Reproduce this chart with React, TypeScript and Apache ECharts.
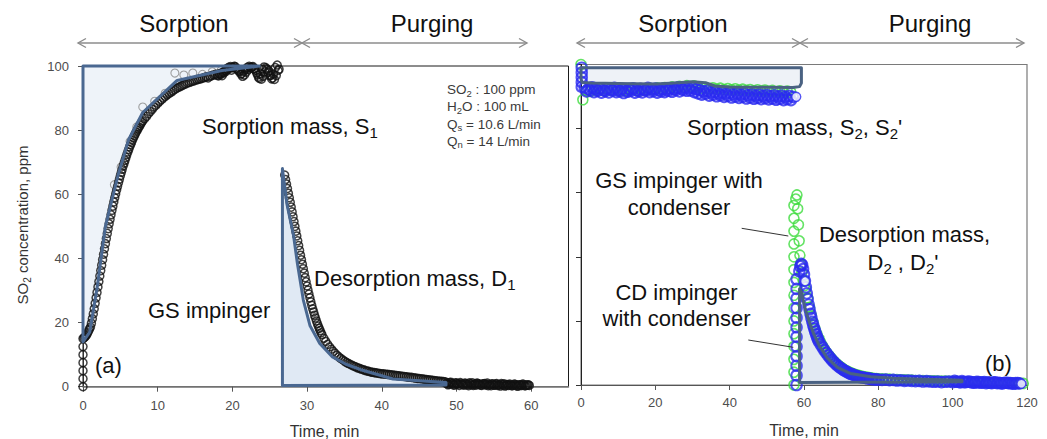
import React, { useEffect, useRef } from 'react';
import * as echarts from 'echarts';

const FONT = '"Liberation Sans", Arial, Helvetica, sans-serif';

// ---------- axes ----------
const X_TICKS_A = [0, 10, 20, 30, 40, 50, 60];
const X_TICKS_B = [0, 20, 40, 60, 80, 100, 120];
const Y_TICKS = [0, 20, 40, 60, 80, 100];

// ---------- panel (a): GS impinger ----------
// column of samples recorded at t = 0
const A_SORP_T0 = [0, 2.5, 5, 7.5, 10, 12.5, 15];
// early sorption, sampled every 0.125 min from 0.125 min
const A_SORP1_START = 0.125;
const A_SORP1_STEP = 0.125;
const A_SORP1 = [
  15.2, 15.5, 15.8, 16.2, 16.8, 17.4, 18.0, 18.6,
  19.8, 21.2, 22.7, 24.3, 26.0, 27.7, 29.4, 31.1, 32.8, 34.5, 36.2, 37.9, 39.6, 41.3, 43.0, 44.6,
  46.2, 47.8, 49.3, 50.8, 52.2, 53.6, 55.0, 56.3, 57.6, 58.9, 60.1, 61.3, 62.5, 63.6, 64.7, 65.8,
  66.8, 67.8, 68.8, 69.7, 70.6, 71.5, 72.4, 73.2, 74.0, 74.8, 75.5, 76.2, 76.9, 77.6, 78.2, 78.8,
  79.4, 80.0, 80.5, 81.0, 81.5, 82.0, 82.5, 82.9,
];
// later sorption, every 0.25 min from 8.25 min
const A_SORP2_START = 8.25;
const A_SORP2_STEP = 0.25;
const A_SORP2 = [
  83.6, 84.3, 85.1, 85.8, 86.5, 87.2, 87.8, 88.4, 89, 89.5, 90, 90.5, 91, 91.4, 91.8, 92.2, 92.6, 93, 93.3, 93.6,
  93.9, 94.2, 94.4, 94.7, 94.9, 95.1, 95.3, 95.5, 95.7, 95.9, 96, 96.2, 96.4, 96.6, 96.3, 96.8, 97, 97.2, 97.4, 97.1,
  97.6, 97.8, 98, 98.6, 99.2, 99.6, 99.8, 99.5, 99.9, 99.3, 98.8, 98.2, 97.6, 98.4, 99, 99.6, 99.9, 99.5, 99.8, 99.2,
  97.8, 96.5, 97.5, 99, 99.7, 99.4, 98, 97, 96, 97.5, 99.5, 100.3, 99,
];
// scatter of the plateau (second trace of samples)
const A_SORP3_START = 18.125;
const A_SORP3_STEP = 0.25;
const A_SORP3 = [
  96.9, 97.3, 97.0, 97.8, 98.3, 98.9, 99.3, 98.7, 99.5, 99.8, 99.1, 98.4, 97.5, 96.8, 97.2, 98.1, 98.9, 99.4, 99.7, 99.1,
  98.6, 97.2, 96.1, 95.9, 96.8, 98.2, 99.0, 98.5, 97.1, 96.3, 95.8, 97.0, 98.6,
];
// replicate (grey circles)
const A_SORP_GRAY: number[][] = [
  [4.2, 63], [5.1, 68.5], [6.3, 76.5], [7.2, 81], [8.0, 87.2], [9.6, 89], [11.0, 91.5], [12.3, 97.8],
  [13.5, 97.2], [14.7, 97.8], [16.0, 97.4], [17.3, 98.2], [18.5, 98.7], [20.0, 99.6],
];
// desorption samples
const A_DES1_START = 27;
const A_DES1_STEP = 0.125;
const A_DES1 = [
  66, 64.6, 63.2, 61.8, 60.3, 58.9, 57.5, 56.0, 54.5, 53.0, 51.5, 50.0, 48.5, 47.0, 45.5, 44.0,
  42.5, 41.0, 39.6, 38.2, 36.8, 35.4, 34.0, 32.7, 31.4, 30.1, 28.9, 27.7, 26.5, 25.4, 24.3, 23.3,
  22.3, 21.4, 20.5, 19.7, 18.9, 18.2, 17.5, 16.8, 16.2,
];
const A_DES2_START = 32.25;
const A_DES2_STEP = 0.25;
const A_DES2 = [
  15.1, 14.1, 13.2, 12.4, 11.7, 11.0, 10.4, 9.8, 9.3, 8.8, 8.4, 8.0, 7.6, 7.3, 7.0, 6.7, 6.4, 6.2, 5.9, 5.7,
  5.5, 5.3, 5.1, 4.9, 4.8, 4.6, 4.5, 4.4, 4.3, 4.2, 4.1, 4.0,
];
const A_DES3_START = 40.25;
const A_DES3_STEP = 0.25;
const A_DES3 = [
  4.0, 3.9, 3.85, 3.8, 3.7, 3.6, 3.55, 3.5, 3.4, 3.3, 3.25, 3.2, 3.1, 3.0, 2.95, 2.9, 2.8, 2.7, 2.6, 2.55,
  2.5, 2.4, 2.3, 2.2, 2.15, 2.1, 2.0, 1.9, 1.85, 1.8, 1.7, 1.65, 1.6,
];
const A_DES4_START = 48.5;
const A_DES4_STEP = 0.25;
const A_DES4 = [
  1.5, 1.2, 0.8, 1.4, 1.0, 0.6, 1.1, 0.9, 1.3, 0.7, 0.5, 1.0, 0.8, 1.2, 0.6, 0.4, 0.9, 1.1, 0.7, 0.5,
  0.8, 1.0, 0.6, 0.3, 0.7, 0.9, 0.5, 0.8, 0.4, 0.6, 1.0, 0.5, 0.2, 0.7, 0.4, 0.6, 0.3, 0.8, 0.5, 0.2,
  0.6, 0.4, 0.7, 0.3, 0.5, 0.4,
];
const A_DES5_START = 48.625;
const A_DES5_STEP = 0.25;
const A_DES5 = [
  1.0, 0.6, 1.3, 0.9, 0.5, 1.2, 0.8, 0.4, 1.0, 0.7, 1.1, 0.6, 0.3, 0.9, 1.2, 0.7, 0.5, 1.0, 0.8, 0.4,
  0.9, 0.6, 1.1, 0.7, 0.3, 0.8, 0.5, 1.0, 0.6, 0.2, 0.7, 0.9, 0.4, 0.6, 0.8, 0.3, 0.5, 0.7, 0.2, 0.6,
  0.4, 0.8, 0.3, 0.5, 0.6,
];
// fitted areas (S1, D1)
const A_FIT_SORP: number[][] = [
  [0, 100], [0, 14], [0.9, 17], [1.9, 31], [3.0, 50], [4.7, 66], [6.1, 77], [8.0, 85.5], [12.6, 95.5],
  [18.6, 98.6], [23.6, 100],
];
const A_FIT_DES: number[][] = [
  [26.7, 0.4], [26.7, 68], [27.3, 57], [28.2, 47], [28.7, 38.5], [29.5, 27], [30.4, 19], [31.7, 13.5],
  [33.4, 9.3], [35.2, 7], [37.2, 5.3], [41.5, 2.4], [48.6, 1.3], [48.6, 0.5],
];

// ---------- panel (b): GS / CD impinger with condenser ----------
const B_GREEN_SORP_T0 = [[0, 100]];
const B_GREEN_SORP_START = 0.5;
const B_SORP_STEP = 1;
const B_GREEN_SORP = [
  89, 92.0, 91.6, 92.3, 91.8, 92.4, 91.7, 92.2, 91.9, 92.5, 91.8, 92.2, 91.7, 92.1, 92.4, 91.8, 92.3, 92.0, 92.6, 92.2,
  92.7, 92.3, 92.8, 92.5, 93.0, 92.7, 93.2, 93.0, 93.4, 93.1, 93.3, 92.9, 92.6, 92.8, 92.4, 92.7, 92.3, 92.6, 92.2, 92.5,
  92.1, 92.4, 92.0, 92.3, 91.9, 92.2, 91.8, 92.1, 91.7, 92.0, 91.6, 91.9, 91.5, 91.8, 91.4, 91.7, 91.3,
];
const B_BLUE_SORP_T0 = [99, 97.5, 96, 94.5, 93];
const B_BLUE_SORP_START = 1;
const B_BLUE_SORP = [
  92.8, 92.4, 92.9, 92.3, 92.6, 92.0, 92.5, 92.2, 92.7, 92.1, 92.4, 91.9, 92.3, 92.6, 92.0, 92.4, 92.1, 92.7, 92.3, 92.5,
  92.0, 92.4, 92.2, 92.6, 92.3, 92.8, 92.5, 92.9, 92.6, 92.8, 92.3, 92.0, 91.6, 91.8, 91.3, 91.5, 91.0, 91.3, 90.9, 91.2,
  90.7, 91.0, 90.6, 90.9, 90.4, 90.7, 90.3, 90.6, 90.2, 90.5, 90.1, 90.4, 90.0, 90.3, 89.9, 90.2, 89.9,
];
const B_BLUE_SORP2_START = 1.5;
const B_BLUE_SORP2 = [
  91.6, 91.9, 91.4, 91.8, 91.2, 91.7, 91.3, 91.9, 91.4, 91.6, 91.1, 91.5, 91.8, 91.2, 91.6, 91.3, 91.9, 91.4, 91.7, 91.2,
  91.6, 91.4, 91.8, 91.5, 92.0, 91.6, 92.1, 91.8, 91.9, 91.4, 91.0, 90.6, 90.9, 90.3, 90.6, 90.1, 90.4, 89.9, 90.2, 89.7,
  90.0, 89.6, 89.9, 89.4, 89.7, 89.3, 89.6, 89.2, 89.5, 89.1, 89.4, 89.0, 89.3, 88.9, 89.2, 88.9,
];
// desorption: rising column, spike and decay
const B_GREEN_RISE_T = 57.3;
const B_GREEN_RISE = [0, 4, 8, 12, 16, 20, 24, 28, 32, 36, 40, 44, 48, 52, 56];
const B_GREEN_PEAK: number[][] = [
  [57.8, 58], [58.1, 59.3], [58.3, 55], [58.5, 50], [58.7, 45], [58.9, 40.5], [59.1, 37.5], [59.4, 35],
  [59.8, 32.5], [60.1, 31],
];
const B_GREEN_DES1_START = 60.5;
const B_GREEN_DES1_STEP = 0.5;
const B_GREEN_DES1 = [
  29.8, 27.2, 24.2, 21.6, 19.4, 17.5, 15.9, 14.5, 13.3, 12.2, 11.2, 10.3, 9.5, 8.8, 8.1, 7.5, 6.9, 6.4, 5.9, 5.5,
  5.1, 4.7, 4.4, 4.1, 3.8, 3.6, 3.4, 3.2, 3.0, 2.9, 2.7, 2.6, 2.5, 2.4, 2.3, 2.2, 2.1, 2.0, 2.0, 1.9,
];
const B_GREEN_DES2_START = 81;
const B_GREEN_DES2_STEP = 1;
const B_GREEN_DES2 = [
  1.9, 1.8, 1.8, 1.7, 1.7, 1.6, 1.6, 1.5, 1.5, 1.4, 1.4, 1.4, 1.3, 1.3, 1.3, 1.2, 1.2, 1.2, 1.1, 1.1,
  1.1, 1.0, 1.0, 1.0, 0.9, 0.9, 0.9, 0.8, 0.8, 0.8, 0.7, 0.7, 0.7, 0.6, 0.6, 0.6, 0.5, 0.5, 0.5,
];
const B_BLUE_RISE_T = 58.0;
const B_BLUE_RISE = [0, 3, 6, 9, 12, 15, 18, 21, 24, 27, 30, 33];
const B_BLUE_DES1_START = 58.75;
const B_BLUE_DES1_STEP = 0.25;
const B_BLUE_DES1 = [
  35.5, 37, 37.8, 37.5, 36.2, 34.5, 32.5, 30.5, 28.6, 26.8, 25.1, 23.6, 22.2, 20.9, 19.7, 18.6, 17.6, 16.7, 15.8, 15.0,
  14.3, 13.6,
];
const B_BLUE_DES2_START = 64.5;
const B_BLUE_DES2_STEP = 0.5;
const B_BLUE_DES2 = [
  12.6, 11.7, 10.8, 10.0, 9.2, 8.5, 7.8, 7.2, 6.6, 6.1, 5.6, 5.2, 4.8, 4.4, 4.1, 3.8, 3.5, 3.3, 3.1, 2.9,
  2.7, 2.5, 2.4, 2.3, 2.2, 2.1, 2.0, 1.9, 1.8, 1.8, 1.7, 1.7,
];
const B_BLUE_DES3_START = 81;
const B_BLUE_DES3_STEP = 1;
const B_BLUE_DES3 = [
  1.6, 1.7, 1.5, 1.6, 1.4, 1.5, 1.3, 1.4, 1.3, 1.2, 1.3, 1.1, 1.2, 1.1, 1.0, 1.1, 0.9, 1.0, 1.1, 0.9,
  1.0, 0.8, 0.9, 1.0, 0.8, 0.7, 0.9, 0.8, 0.6, 0.7, 0.8, 0.6, 0.5, 0.7, 0.6, 0.5, 0.6, 0.5,
];
const B_BLUE_DES4_START = 100.5;
const B_BLUE_DES4_STEP = 1;
const B_BLUE_DES4 = [1.3, 1.0, 1.2, 0.9, 1.1, 0.8, 1.0, 0.7, 0.9, 0.8, 0.6, 0.8, 0.7, 0.5, 0.7, 0.6, 0.4, 0.6];
const B_BLUE_MARKS: number[][] = [[57.9, 89.9], [60.3, 32.4], [118.5, 0.4]];
// fitted areas (S2, S2', D2, D2')
const B_FIT_SORP: number[][] = [
  [0, 99], [59.3, 99], [59.3, 94.2], [58.8, 93.1], [57, 92.8], [50, 92.9], [40, 93], [36, 93.3], [33.5, 94.3],
  [30, 94.6], [25, 94.2], [20, 93.9], [10, 94.1], [3, 94.2], [0.3, 94.4], [0, 95.5],
];
const B_FIT_DES: number[][] = [
  [58.8, 0.8], [58.8, 30], [59.3, 29], [60.4, 23.4], [61.5, 19.5], [62.6, 16], [64, 12.5], [66.2, 8.5],
  [69, 5.5], [72.4, 3.6], [78, 2.6], [84, 2.1], [92, 1.8], [102.5, 1.5], [102.5, 1.0],
];

// ---------- helpers ----------
const seq = (start: number, step: number, ys: number[]) =>
  ys.map((y, i) => [Math.round((start + i * step) * 1000) / 1000, y]);
const col = (x: number, ys: number[]) => ys.map((y) => [x, y]);

function polySeries(pts: number[][], gi: number, fill: string, stroke: string, z: number) {
  return {
    type: 'custom',
    xAxisIndex: gi,
    yAxisIndex: gi,
    clip: false,
    silent: true,
    z,
    data: [[pts[0][0], pts[0][1]]],
    renderItem: (_p: any, api: any) => ({
      type: 'polygon',
      shape: { points: pts.map((p) => api.coord(p)) },
      style: {
        fill,
        stroke,
        lineWidth: stroke === 'none' ? 0 : 3,
        lineJoin: 'round',
      },
    }),
  };
}

function scatter(data: number[][], gi: number, color: string, size: number, bw: number, fill = 'rgba(0,0,0,0)', z = 3) {
  return {
    type: 'scatter',
    xAxisIndex: gi,
    yAxisIndex: gi,
    clip: false,
    silent: true,
    z,
    symbol: 'circle',
    symbolSize: size,
    itemStyle: { color: fill, borderColor: color, borderWidth: bw },
    data,
  };
}

const SUB_BIG = { fontSize: 15, fontFamily: FONT, fill: '#111', verticalAlign: 'bottom', lineHeight: 16 };
function label(x: number, y: number, text: string, align = 'left', size = 22) {
  return {
    type: 'text',
    x,
    y,
    z: 50,
    style: {
      text,
      fontSize: size,
      fontFamily: FONT,
      fill: '#111',
      align,
      verticalAlign: 'middle',
      lineHeight: 28,
      rich: { s: SUB_BIG },
    },
  };
}
function info(x: number, y: number, text: string) {
  return {
    type: 'text',
    x,
    y,
    z: 50,
    style: {
      text,
      fontSize: 13.5,
      fontFamily: FONT,
      fill: '#3a3a3a',
      align: 'left',
      verticalAlign: 'middle',
      lineHeight: 17,
      rich: { s: { fontSize: 9.5, fontFamily: FONT, fill: '#3a3a3a', verticalAlign: 'bottom', lineHeight: 10 } },
    },
  };
}
const ARROW = '#8c8c8c';
function arrow(x1: number, x2: number, y: number) {
  const st = { stroke: ARROW, lineWidth: 1.4, fill: 'none' };
  return [
    { type: 'line', z: 50, shape: { x1, y1: y, x2, y2: y }, style: st },
    { type: 'polyline', z: 50, shape: { points: [[x1 + 8, y - 4.5], [x1, y], [x1 + 8, y + 4.5]] }, style: st },
    { type: 'polyline', z: 50, shape: { points: [[x2 - 8, y - 4.5], [x2, y], [x2 - 8, y + 4.5]] }, style: st },
  ];
}
function leader(x1: number, y1: number, x2: number, y2: number) {
  return { type: 'line', z: 50, shape: { x1, y1, x2, y2 }, style: { stroke: '#333', lineWidth: 1 } };
}

export default function App() {
  const ref = useRef<HTMLDivElement>(null);

  useEffect(() => {
    if (!ref.current) return;
    const chart = echarts.init(ref.current, undefined, { renderer: 'svg' });

    const tickLabel = { color: '#4d4d4d', fontSize: 13, fontFamily: FONT };

    const xA = {
      type: 'value',
      gridIndex: 0,
      min: 0,
      max: 65,
      axisLine: { show: true, lineStyle: { color: '#808080', width: 1.5 } },
      axisTick: { show: true, length: 5, customValues: X_TICKS_A, lineStyle: { color: '#555' } },
      axisLabel: { ...tickLabel, margin: 12, customValues: X_TICKS_A },
      splitLine: { show: false },
    };
    const yA = {
      type: 'value',
      gridIndex: 0,
      min: 0,
      max: 100,
      interval: 20,
      axisLine: { show: true, lineStyle: { color: '#333', width: 1 } },
      axisTick: { show: true, length: 5, customValues: Y_TICKS, lineStyle: { color: '#555' } },
      axisLabel: { ...tickLabel, margin: 14, customValues: Y_TICKS },
      splitLine: { show: false },
    };
    const xB = {
      type: 'value',
      gridIndex: 1,
      min: 0,
      max: 120,
      interval: 20,
      axisLine: { show: true, lineStyle: { color: '#555', width: 1.2 } },
      axisTick: { show: true, length: 5, customValues: X_TICKS_B, lineStyle: { color: '#555' } },
      axisLabel: { ...tickLabel, margin: 11, customValues: X_TICKS_B },
      splitLine: { show: false },
    };
    const yB = {
      type: 'value',
      gridIndex: 1,
      min: 0,
      max: 100,
      interval: 20,
      axisLine: { show: true, lineStyle: { color: '#222', width: 1 } },
      axisTick: { show: true, length: 5, customValues: Y_TICKS, lineStyle: { color: '#333' } },
      axisLabel: { show: false },
      splitLine: { show: false },
    };

    const aSorpBlack = [
      ...col(0, A_SORP_T0),
      ...seq(A_SORP1_START, A_SORP1_STEP, A_SORP1),
      ...seq(A_SORP2_START, A_SORP2_STEP, A_SORP2),
      ...seq(A_SORP3_START, A_SORP3_STEP, A_SORP3),
    ];
    const aDesBlack = [
      ...seq(A_DES1_START, A_DES1_STEP, A_DES1),
      ...seq(A_DES2_START, A_DES2_STEP, A_DES2),
      ...seq(A_DES3_START, A_DES3_STEP, A_DES3),
      ...seq(A_DES4_START, A_DES4_STEP, A_DES4),
      ...seq(A_DES5_START, A_DES5_STEP, A_DES5),
    ];
    const bGreen = [
      ...B_GREEN_SORP_T0,
      ...seq(B_GREEN_SORP_START, B_SORP_STEP, B_GREEN_SORP),
      ...col(B_GREEN_RISE_T, B_GREEN_RISE),
      ...B_GREEN_PEAK,
      ...seq(B_GREEN_DES1_START, B_GREEN_DES1_STEP, B_GREEN_DES1),
      ...seq(B_GREEN_DES2_START, B_GREEN_DES2_STEP, B_GREEN_DES2),
    ];
    const bBlue = [
      ...col(0.2, B_BLUE_SORP_T0),
      ...seq(B_BLUE_SORP_START, B_SORP_STEP, B_BLUE_SORP),
      ...seq(B_BLUE_SORP2_START, B_SORP_STEP, B_BLUE_SORP2),
      ...col(B_BLUE_RISE_T, B_BLUE_RISE),
      ...seq(B_BLUE_DES1_START, B_BLUE_DES1_STEP, B_BLUE_DES1),
      ...seq(B_BLUE_DES2_START, B_BLUE_DES2_STEP, B_BLUE_DES2),
      ...seq(B_BLUE_DES3_START, B_BLUE_DES3_STEP, B_BLUE_DES3),
      ...seq(B_BLUE_DES4_START, B_BLUE_DES4_STEP, B_BLUE_DES4),
    ];

    const LINE_A = '#4a6891';
    const LINE_B = '#4a6282';

    const option: any = {
      animation: false,
      backgroundColor: '#ffffff',
      grid: [
        { left: 83, top: 66, width: 485.5, height: 320.7, show: true, borderColor: '#1a1a1a', borderWidth: 1, backgroundColor: 'transparent' },
        { left: 581, top: 64.5, width: 446, height: 320.5, show: true, borderColor: '#7a7a7a', borderWidth: 1.2, backgroundColor: 'transparent' },
      ],
      xAxis: [xA, xB],
      yAxis: [yA, yB],
      series: [
        polySeries(A_FIT_SORP, 0, '#eef3f9', 'none', 1),
        polySeries(A_FIT_DES, 0, '#e0e9f4', 'none', 1),
        polySeries(B_FIT_SORP, 1, '#eef2f7', 'none', 1),
        polySeries(B_FIT_DES, 1, '#e2e9f3', 'none', 1),
        scatter(A_SORP_GRAY, 0, '#8a8a8a', 8, 1.1),
        scatter(aSorpBlack, 0, '#111', 8, 1.5),
        scatter(aDesBlack, 0, '#111', 8, 1.5),
        scatter(bGreen, 1, '#3ddc3d', 10, 1.6),
        scatter(bBlue, 1, '#2a2af0', 10.5, 2),
        polySeries(A_FIT_SORP, 0, 'none', LINE_A, 4),
        polySeries(A_FIT_DES, 0, 'none', LINE_A, 4),
        polySeries(B_FIT_SORP, 1, 'none', LINE_B, 4),
        polySeries(B_FIT_DES, 1, 'none', LINE_B, 4),
        scatter(B_BLUE_MARKS, 1, '#2a2af0', 9, 1.5, '#ffffff', 5),
      ],
      graphic: [
        // phase headers
        label(184, 23, 'Sorption', 'center', 24),
        label(432, 23, 'Purging', 'center', 24),
        label(683, 23, 'Sorption', 'center', 24),
        label(930, 23, 'Purging', 'center', 24),
        ...arrow(78, 302, 43),
        ...arrow(302, 527, 43),
        ...arrow(577, 800, 43),
        ...arrow(800, 1024, 43),
        // panel (a)
        label(202, 126, 'Sorption mass, S{s|1}'),
        label(148, 310, 'GS impinger'),
        label(314, 278, 'Desorption mass, D{s|1}'),
        label(95, 365, '(a)'),
        info(447, 89.5, 'SO{s|2} : 100 ppm'),
        info(447, 106.8, 'H{s|2}O : 100 mL'),
        info(447, 124, 'Q{s|s} = 10.6 L/min'),
        info(447, 141, 'Q{s|n} = 14 L/min'),
        // panel (b)
        label(687, 127, "Sorption mass, S{s|2}, S{s|2}'"),
        label(679, 180, 'GS impinger with', 'center'),
        label(679, 207, 'condenser', 'center'),
        label(904.5, 234, 'Desorption mass,', 'center'),
        label(903, 262, "D{s|2} , D{s|2}'", 'center'),
        label(676.5, 292, 'CD impinger', 'center'),
        label(676.5, 318.5, 'with condenser', 'center'),
        label(985, 363, '(b)'),
        leader(741.7, 228.3, 788.3, 236),
        leader(748.3, 340, 793.3, 347.3),
        // axis titles
        {
          type: 'text',
          x: 324.5,
          y: 431,
          z: 50,
          style: { text: 'Time, min', fontSize: 16, fontFamily: FONT, fill: '#333', align: 'center', verticalAlign: 'middle' },
        },
        {
          type: 'text',
          x: 804,
          y: 430,
          z: 50,
          style: { text: 'Time, min', fontSize: 16, fontFamily: FONT, fill: '#333', align: 'center', verticalAlign: 'middle' },
        },
        {
          type: 'text',
          x: 22,
          y: 225,
          z: 50,
          rotation: Math.PI / 2,
          style: {
            text: 'SO{s|2} concentration, ppm',
            fontSize: 15,
            fontFamily: FONT,
            fill: '#333',
            align: 'center',
            verticalAlign: 'middle',
            lineHeight: 20,
            rich: { s: { fontSize: 10, fontFamily: FONT, fill: '#333', verticalAlign: 'bottom', lineHeight: 11 } },
          },
        },
      ],
    };

    chart.setOption(option);
    return () => chart.dispose();
  }, []);

  return (
    <div
      ref={ref}
      style={{ position: 'fixed', left: 0, top: 0, width: 1047, height: 439, background: '#fff' }}
    />
  );
}
